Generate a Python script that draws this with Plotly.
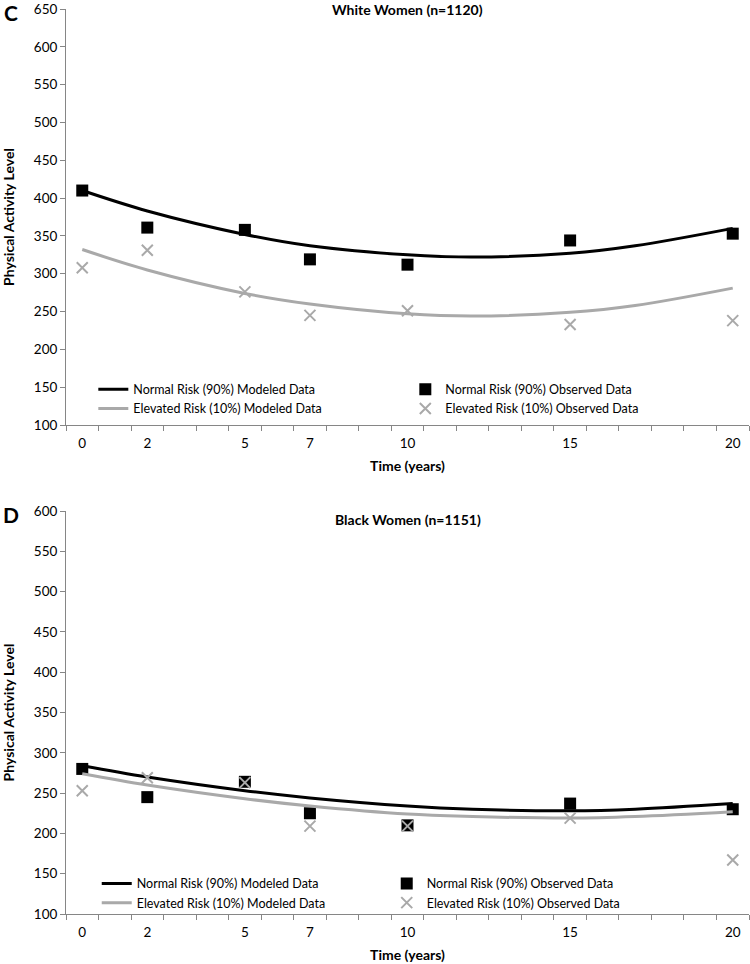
import plotly.graph_objects as go
from plotly.subplots import make_subplots

# ---------------- data ----------------
years = [0, 2, 5, 7, 10, 15, 20]
model_years = [0, 2, 5, 7, 10, 12, 15, 17, 20]
tick_labels = ["0", "2", "5", "7", "10", "15", "20"]

white_normal_obs = [410, 361, 358, 319, 312, 344, 353]
white_elev_obs = [308, 331, 276, 245, 251, 233, 238]
white_normal_model = [410, 383, 352, 337, 325, 322, 327, 337, 360]
white_elev_model = [332, 305, 274, 260, 247, 244, 249, 258, 281]

black_normal_obs = [280, 245, 264, 225, 210, 237, 230]
black_elev_obs = [253, 269, 263, 209, 209, 219, 167]
black_normal_model = [284, 270, 253, 244, 234, 230, 228, 230, 237]
black_elev_model = [274, 260, 243, 234, 224, 221, 219, 221, 227]

names = ["Normal Risk (90%) Modeled Data", "Normal Risk (90%) Observed Data",
         "Elevated Risk (10%) Modeled Data", "Elevated Risk (10%) Observed Data"]

BLACK = "#000000"
GRAY = "#a9a9a9"
AXIS = "#868686"
FONT = "Lato"

fig = make_subplots(rows=2, cols=1)

def add_panel(row, legend, nm, no, em, eo):
    fig.add_trace(go.Scatter(x=model_years, y=nm, mode="lines", name=names[0],
                             line=dict(color=BLACK, width=3, shape="spline", smoothing=1),
                             legend=legend), row=row, col=1)
    fig.add_trace(go.Scatter(x=years, y=no, mode="markers", name=names[1],
                             marker=dict(symbol="square", size=12, color=BLACK),
                             legend=legend), row=row, col=1)
    fig.add_trace(go.Scatter(x=model_years, y=em, mode="lines", name=names[2],
                             line=dict(color=GRAY, width=3, shape="spline", smoothing=1),
                             legend=legend), row=row, col=1)
    fig.add_trace(go.Scatter(x=years, y=eo, mode="markers", name=names[3],
                             marker=dict(symbol="x-thin", size=11, color=GRAY,
                                         line=dict(width=2, color=GRAY)),
                             legend=legend), row=row, col=1)

add_panel(1, "legend", white_normal_model, white_normal_obs, white_elev_model, white_elev_obs)
add_panel(2, "legend2", black_normal_model, black_normal_obs, black_elev_model, black_elev_obs)

minor_ticks = [i - 0.5 for i in range(0, 22)]

xaxis_common = dict(
    range=[-0.5, 20.5], tickmode="array", tickvals=years, ticktext=tick_labels,
    ticks="", ticklen=0, showline=True, linecolor=AXIS, linewidth=1,
    showgrid=False, zeroline=False, ticklabelstandoff=6,
    tickfont=dict(family=FONT, size=13.5, color="#000"),
    minor=dict(tickmode="array", tickvals=minor_ticks, ticks="outside", ticklen=5,
               tickcolor=AXIS, tickwidth=1, showgrid=False),
    title=dict(text="<b>Time (years)</b>", font=dict(family=FONT, size=14, color="#000"),
               standoff=10),
)
yaxis_common = dict(
    dtick=50, ticks="outside", ticklen=5, tickcolor=AXIS, tickwidth=1,
    showline=True, linecolor=AXIS, linewidth=1, showgrid=False, zeroline=False,
    tickfont=dict(family=FONT, size=13.5, color="#000"), ticklabeloverflow="allow",
    title=dict(text="<b>Physical Activity Level</b>", font=dict(family=FONT, size=14, color="#000"),
               standoff=15),
)

fig.update_layout(
    width=750, height=964,
    margin=dict(l=66, r=1, t=9, b=50),
    paper_bgcolor="white", plot_bgcolor="white",
    font=dict(family=FONT, color="#000"),
    xaxis=dict(domain=[0, 1], **xaxis_common),
    xaxis2=dict(domain=[0, 1], **xaxis_common),
    yaxis=dict(domain=[0.5403, 1], range=[100, 650], **yaxis_common),
    yaxis2=dict(domain=[0, 0.4453], range=[100, 600], **yaxis_common),
    legend=dict(orientation="h", x=0.04, xanchor="left", y=0.596, yanchor="top",
                entrywidth=267, entrywidthmode="pixels", bgcolor="rgba(0,0,0,0)",
                font=dict(family=FONT, size=12.5, color="#000"), traceorder="normal"),
    legend2=dict(orientation="h", x=0.045, xanchor="left", y=0.050, yanchor="top",
                 entrywidth=245, entrywidthmode="pixels", bgcolor="rgba(0,0,0,0)",
                 font=dict(family=FONT, size=12.5, color="#000"), traceorder="normal"),
    showlegend=True,
)

fig.add_annotation(text="<b>White Women (n=1120)</b>", xref="paper", yref="paper",
                   x=0.5, y=1.0, xanchor="center", yanchor="middle", showarrow=False,
                   font=dict(family=FONT, size=14, color="#000"))
fig.add_annotation(text="<b>Black Women (n=1151)</b>", xref="paper", yref="paper",
                   x=0.5, y=(914 - 519) / 905, xanchor="center", yanchor="middle", showarrow=False,
                   font=dict(family=FONT, size=14, color="#000"))
fig.add_annotation(text="<b>C</b>", xref="paper", yref="paper",
                   x=(11 - 66) / 683, y=(914 - 13) / 905, xanchor="center", yanchor="middle",
                   showarrow=False, font=dict(family=FONT, size=21, color="#000"))
fig.add_annotation(text="<b>D</b>", xref="paper", yref="paper",
                   x=(11 - 66) / 683, y=(914 - 514) / 905, xanchor="center", yanchor="middle",
                   showarrow=False, font=dict(family=FONT, size=21, color="#000"))

fig.write_html("out.html", config={"displayModeBar": False},
               post_script="document.body.style.margin='0';document.body.style.overflow='hidden';")
